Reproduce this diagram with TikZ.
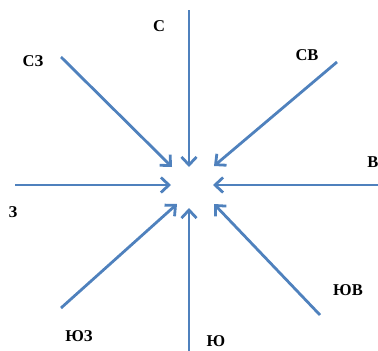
\documentclass[tikz,border=0pt]{standalone}
\usepackage{fontspec}
\setmainfont{Liberation Serif}
\usetikzlibrary{arrows.meta}

\definecolor{rosa}{RGB}{79,129,189}

\begin{document}
\begin{tikzpicture}[x=1pt,y=-1pt,
lbl/.style={font=\fontsize{16.5}{16.5}\selectfont\bfseries,inner sep=0pt},
wind/.style={draw=rosa,line width=2.8pt,-{Straight Barb[length=8pt,width=15pt,line width=2.8pt]}}]
\useasboundingbox (0,0) rectangle (378,351);
% arrow ends
\coordinate (n0) at (189,10);   \coordinate (n1) at (189,167);
\coordinate (s0) at (189,351);  \coordinate (s1) at (189,208);
\coordinate (w0) at (15,185);   \coordinate (w1) at (171,185);
\coordinate (e0) at (378,185);  \coordinate (e1) at (213,185);
\coordinate (nw0) at (61,57);   \coordinate (nw1) at (172,167);
\coordinate (ne0) at (337,62);  \coordinate (ne1) at (214,166);
\coordinate (sw0) at (61,308);  \coordinate (sw1) at (177,204);
\coordinate (se0) at (320,315); \coordinate (se1) at (214,204);
\draw[wind] (n0) -- (n1); \draw[wind] (s0) -- (s1);
\draw[wind] (w0) -- (w1); \draw[wind] (e0) -- (e1);
\draw[wind] (nw0) -- (nw1); \draw[wind] (ne0) -- (ne1);
\draw[wind] (sw0) -- (sw1); \draw[wind] (se0) -- (se1);
% labels
\node[lbl] (ln) at (159,26) {С};
\node[lbl] (lnw) at (33,61) {СЗ};
\node[lbl] (lne) at (307,55) {СВ};
\node[lbl] (le) at (373,162) {В};
\node[lbl] (lw) at (13,212) {З};
\node[lbl] (lsw) at (79,336) {ЮЗ};
\node[lbl] (ls) at (216,341) {Ю};
\node[lbl] (lse) at (348,290) {ЮВ};
\end{tikzpicture}
\end{document}
